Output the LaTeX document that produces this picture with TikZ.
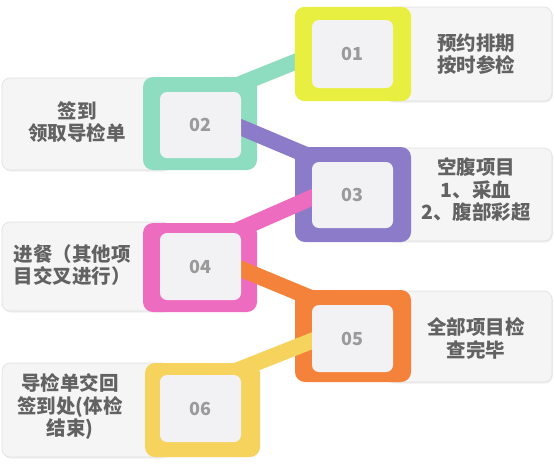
\documentclass[tikz,border=0pt]{standalone}
\usepackage{fontspec}
\setmainfont{Noto Sans CJK SC}
\usetikzlibrary{shadows}
\definecolor{cA}{HTML}{E9EF40}
\definecolor{cB}{HTML}{8EDDC1}
\definecolor{cC}{HTML}{8C7BC8}
\definecolor{cD}{HTML}{EE6CC0}
\definecolor{cE}{HTML}{F4823A}
\definecolor{cF}{HTML}{F6D35C}
\definecolor{lbg}{HTML}{F5F5F5}
\definecolor{ibg}{HTML}{F2F2F4}
\definecolor{txt}{HTML}{626262}
\definecolor{numc}{HTML}{9A9A9A}
\begin{document}
\begin{tikzpicture}[x=1pt,y=-1pt,
  labelbox/.style={draw=black!12, line width=0.6pt, fill=lbg, rounded corners=8pt, inner sep=0pt,
    drop shadow={opacity=0.12, shadow xshift=1pt, shadow yshift=-1.5pt}},
  framebox/.style={rounded corners=10pt, inner sep=0pt},
  innerbox/.style={fill=ibg, rounded corners=7pt, inner sep=0pt, minimum width=81pt,
    font=\fontsize{18}{20}\selectfont\bfseries, text=numc},
  conn/.style={line width=16pt, line cap=butt},
  lbltext/.style={font=\fontsize{19.5}{22.5}\selectfont\bfseries, text=txt, inner sep=0pt}
]
\fill[white] (0,0) rectangle (554,467);
\useasboundingbox (0,0) rectangle (554,467);

% label boxes
\node[labelbox, minimum width=167pt, minimum height=94pt] (lb1) at (468.5,54) {};
\node[labelbox, minimum width=168pt, minimum height=92pt] (lb2) at (86,124) {};
\node[labelbox, minimum width=167pt, minimum height=93pt] (lb3) at (468.5,194.5) {};
\node[labelbox, minimum width=168pt, minimum height=89pt] (lb4) at (86,266.5) {};
\node[labelbox, minimum width=167pt, minimum height=91pt] (lb5) at (468.5,336.5) {};
\node[labelbox, minimum width=168pt, minimum height=94pt] (lb6) at (86,410) {};

% label texts
\node[lbltext, align=center] (t1) at (476,54) {预约排期\\按时参检};
\node[lbltext, align=center] (t2) at (77,122) {签到\\领取导检单};
\node[lbltext, align=center] (t3) at (476,190) {空腹项目\\1、采血\\2、腹部彩超};
\node[lbltext, align=left] (t4) at (72,265) {进餐（其他项\\目交叉进行）};
\node[lbltext, align=center] (t5) at (476,338.5) {全部项目检\\查完毕};
\node[lbltext, align=center] (t6) at (70,407) {导检单交回\\签到处(体检\\结束)};

% frames 02-06
\node[framebox, fill=cB, minimum width=114pt, minimum height=93pt] (f2) at (200,123.5) {};
\node[framebox, fill=cC, minimum width=116pt, minimum height=95pt] (f3) at (353,194.5) {};
\node[framebox, fill=cD, minimum width=114pt, minimum height=89pt] (f4) at (200,267.5) {};
\node[framebox, fill=cE, minimum width=116pt, minimum height=92pt] (f5) at (353,336) {};
\node[framebox, fill=cF, minimum width=115pt, minimum height=94pt] (f6) at (202.5,410) {};

% inner box placeholders (for anchors), drawn later
\node[innerbox, minimum height=68pt, fill=none] (n1) at (352.5,54) {};
\node[innerbox, minimum height=66pt, fill=none] (n2) at (200.5,125) {};
\node[innerbox, minimum height=66pt, fill=none] (n3) at (352.5,195) {};
\node[innerbox, minimum height=67pt, fill=none] (n4) at (200.5,266.5) {};
\node[innerbox, minimum height=67pt, fill=none] (n5) at (352.5,338.5) {};
\node[innerbox, minimum height=67pt, fill=none] (n6) at (200.5,408.5) {};

% frame 01 placeholder (for anchors)
\node[framebox, minimum width=116pt, minimum height=94pt] (f1) at (353,54) {};

% connectors
\draw[conn, cB] ([xshift=-3pt,yshift=7pt]n2.north east) -- ([xshift=5pt,yshift=-6pt]f1.west);
\draw[conn, cC] ([xshift=-6pt]n2.east) -- ([xshift=6pt,yshift=2pt]n3.north west);
\draw[conn, cD] ([xshift=-5pt,yshift=2pt]n4.north east) -- ([xshift=6pt]n3.west);
\draw[conn, cE] ([xshift=-6pt]n4.east) -- ([xshift=6pt,yshift=4pt]n5.north west);
\draw[conn, cF] ([xshift=-5pt,yshift=4pt]n6.north east) -- ([xshift=6pt]n5.west);

% frame 01 drawn over teal connector
\fill[cA, rounded corners=10pt] (f1.south west) rectangle (f1.north east);

% inner boxes with numbers
\node[innerbox, minimum height=68pt] at (n1) {01};
\node[innerbox, minimum height=66pt] at (n2) {02};
\node[innerbox, minimum height=66pt] at (n3) {03};
\node[innerbox, minimum height=67pt] at (n4) {04};
\node[innerbox, minimum height=67pt] at (n5) {05};
\node[innerbox, minimum height=67pt] at (n6) {06};
\end{tikzpicture}
\end{document}
